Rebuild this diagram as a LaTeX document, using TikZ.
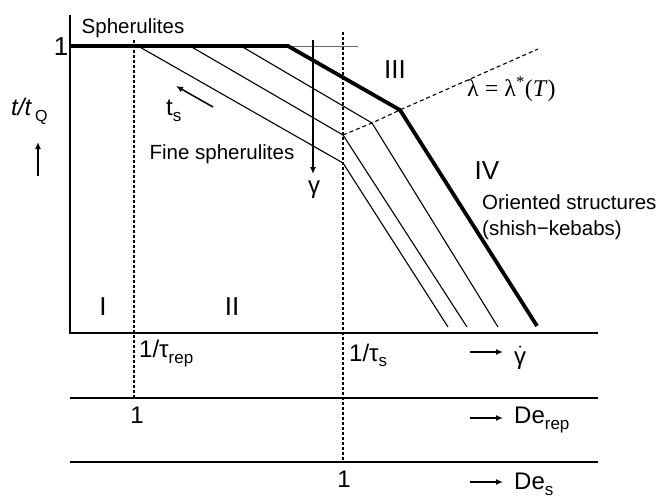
\documentclass[tikz,border=0pt]{standalone}
\usepackage{fontspec}
\setmainfont{Liberation Sans}
\newfontfamily\seriffam{Liberation Serif}
\usetikzlibrary{arrows.meta}
\tikzset{
  axisline/.style={line width=2.6pt},
  thickcurve/.style={line width=3.8pt, line join=miter},
  thincurve/.style={line width=1.1pt},
  vdash/.style={line width=1.1pt, dash pattern=on 3pt off 2pt},
  lamdash/.style={line width=1.1pt, dash pattern=on 4pt off 3pt},
  lbl/.style={font=\fontsize{20.5}{24}\selectfont, inner sep=0pt},
  biglbl/.style={font=\fontsize{24}{28}\selectfont, inner sep=0pt},
  roman/.style={font=\fontsize{26}{30}\selectfont, inner sep=0pt},
  arr/.style={-{Latex[length=7pt,width=6pt]}, line width=1.5pt},
}
\begin{document}
\begin{tikzpicture}[x=1pt,y=-1pt]
\useasboundingbox[fill=white] (0,0) rectangle (657,498);
% coordinates
\coordinate (ytop) at (70,15);
\coordinate (orig) at (70,333);
\coordinate (xend) at (598,333);
\coordinate (l2a) at (70,398);
\coordinate (l2b) at (598,398);
\coordinate (l3a) at (70,462);
\coordinate (l3b) at (598,462);
\coordinate (d1t) at (134,40);
\coordinate (d1b) at (134,398);
\coordinate (d2t) at (343,32);
\coordinate (d2b) at (343,462);
\coordinate (p0) at (70,46);
\coordinate (p1) at (288,46);
\coordinate (p2) at (400,110);
\coordinate (p3) at (537,326);
\coordinate (g1) at (358,46);
\coordinate (a0) at (138,46);
\coordinate (a1) at (343,163);
\coordinate (a2) at (448,327);
\coordinate (b0) at (190,46);
\coordinate (b1) at (343,135);
\coordinate (b2) at (467,327);
\coordinate (c0) at (241,46);
\coordinate (c1) at (372,123);
\coordinate (c2) at (498,327);
\coordinate (lamend) at (538,49);
\coordinate (gs) at (313,40);
\coordinate (ge) at (313,174);
\coordinate (ts1) at (213,107);
\coordinate (ts2) at (176,86);
\coordinate (up1) at (38,176);
\coordinate (up2) at (38,142);
\coordinate (r1a) at (470,352);
\coordinate (r1b) at (503,352);
\coordinate (r2a) at (470,418);
\coordinate (r2b) at (503,418);
\coordinate (r3a) at (470,482);
\coordinate (r3b) at (503,482);

% axes and scale lines
\draw[axisline] (ytop) -- (orig) -- (xend);
\draw[axisline] (l2a) -- (l2b);
\draw[axisline] (l3a) -- (l3b);
\draw[vdash] (d1t) -- (d1b);
\draw[vdash] (d2t) -- (d2b);

% curves
\draw[line width=0.8pt, black!60] (p1) -- (g1);
\draw[thincurve] (a0) -- (a1) -- (a2);
\draw[thincurve] (b0) -- (b1) -- (b2);
\draw[thincurve] (c0) -- (c1) -- (c2);
\draw[thickcurve] (p0) -- (p1) -- (p2) -- (p3);
\draw[lamdash] (b1) -- (c1) -- (p2) -- (lamend);

% arrows
\draw[arr] (gs) -- (ge);
\draw[arr] (ts1) -- (ts2);
\draw[arr] (up1) -- (up2);
\draw[arr] (r1a) -- (r1b);
\draw[arr] (r2a) -- (r2b);
\draw[arr] (r3a) -- (r3b);

% labels
\node[lbl] (spher) at (133,28) {Spherulites};
\node[roman] (one) at (61,47) {1};
\node[biglbl, anchor=west] (tq) at (11,111) {\itshape t/t\,\raisebox{-6pt}{\fontsize{16}{17}\selectfont\upshape Q}};
\node[biglbl, anchor=west] (ts) at (166,111) {t\raisebox{-6pt}{\fontsize{17}{18}\selectfont s}};
\node[lbl] (fine) at (222,154) {Fine spherulites};
\node[biglbl] (gam) at (314,190) {γ};
\node[roman] (III) at (395,70) {III};
\node[biglbl, anchor=west] (lam) at (467,89) {\seriffam λ = λ\textsuperscript{*}(\textit{T})};
\node[roman] (IV) at (487,171) {IV};
\node[lbl, anchor=west] (ori1) at (482,202) {Oriented structures};
\node[lbl, anchor=west] (ori2) at (482,230) {(shish−kebabs)};
\node[roman] (I) at (103,307) {I};
\node[roman] (II) at (232,307) {II};
\node[biglbl, anchor=west] (trep) at (139,354) {1/τ\raisebox{-6pt}{\fontsize{17}{18}\selectfont rep}};
\node[biglbl, anchor=west] (tsl) at (349,355) {1/τ\raisebox{-5pt}{\fontsize{17}{18}\selectfont s}};
\node[biglbl, anchor=west] (gdot) at (514,358) {$\dot{\mbox{γ}}$};
\node[biglbl] (one2) at (137,415) {1};
\node[biglbl, anchor=west] (derep) at (514,420) {De\raisebox{-6pt}{\fontsize{17}{18}\selectfont rep}};
\node[biglbl] (one3) at (344,479) {1};
\node[biglbl, anchor=west] (des) at (514,484) {De\raisebox{-6pt}{\fontsize{17}{18}\selectfont s}};
\end{tikzpicture}
\end{document}
